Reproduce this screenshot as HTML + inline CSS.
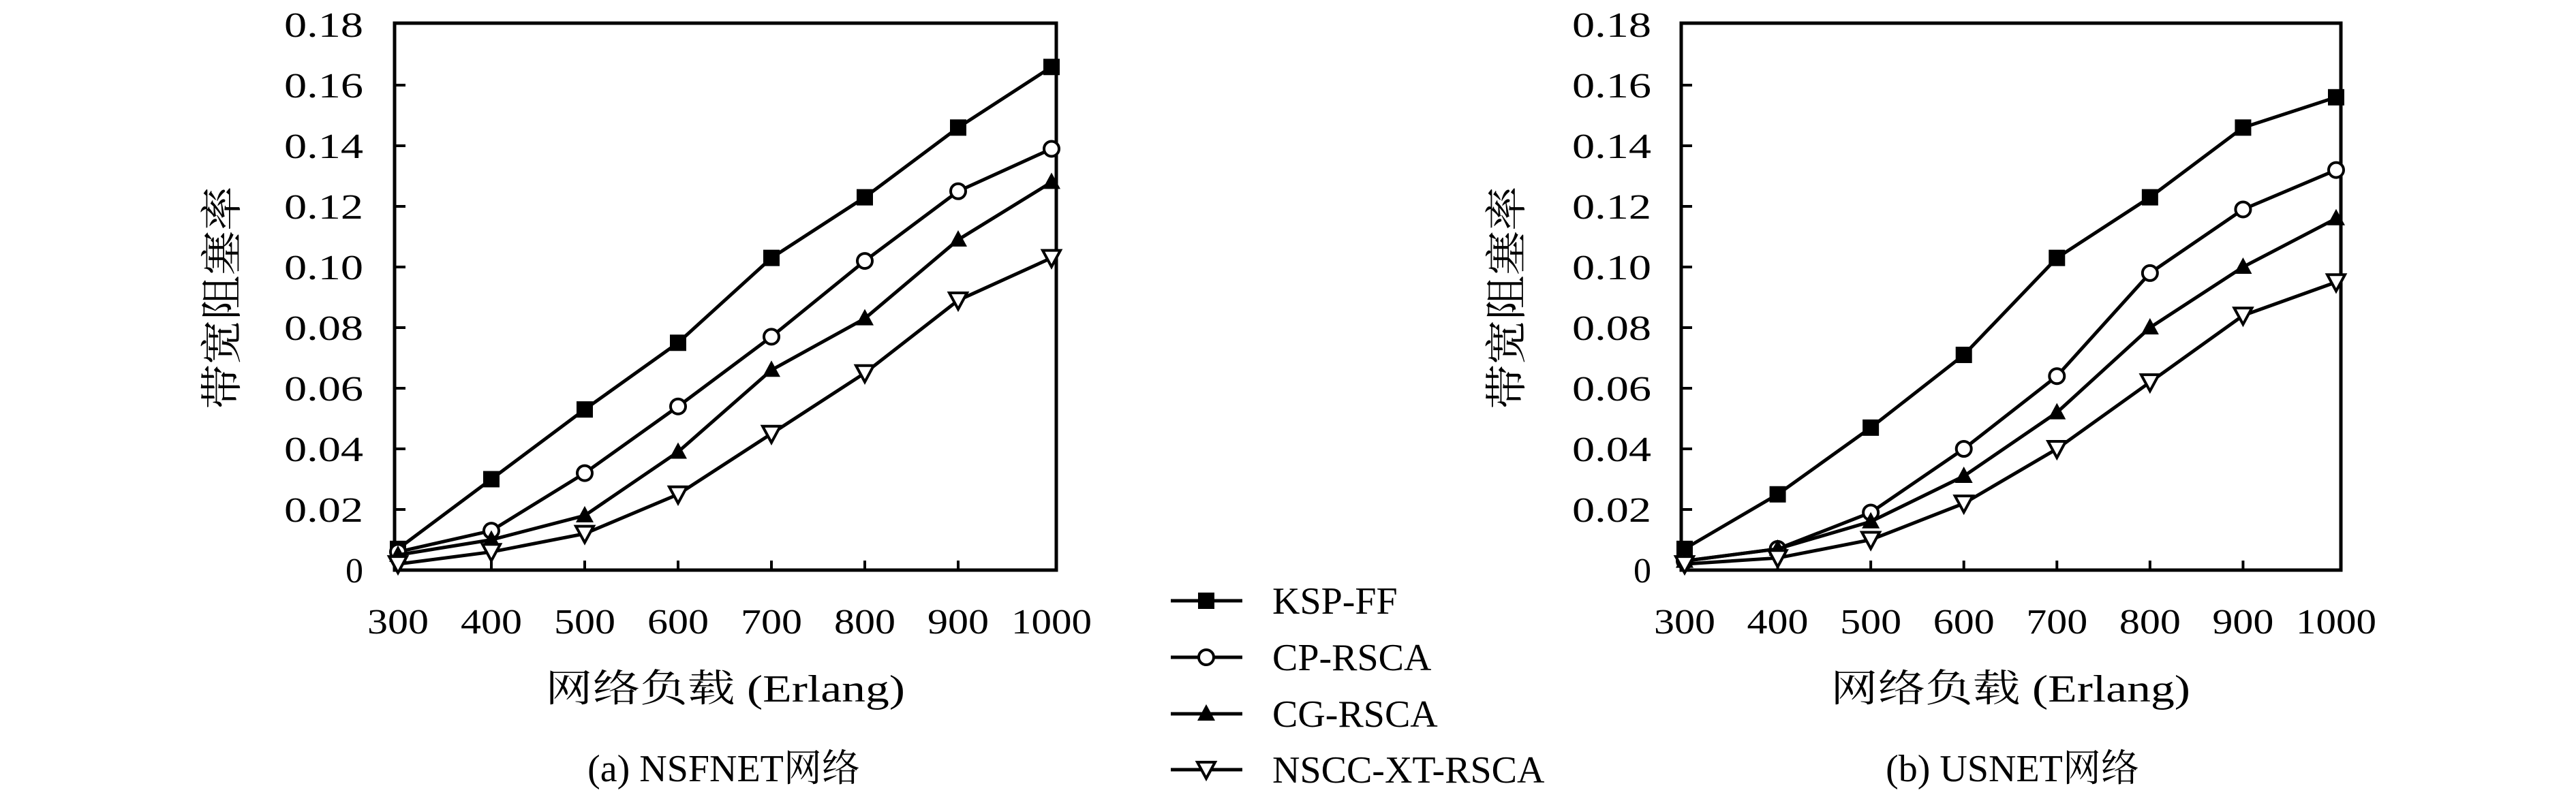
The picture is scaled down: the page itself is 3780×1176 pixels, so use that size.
<!DOCTYPE html>
<html><head><meta charset="utf-8"><style>
html,body{margin:0;padding:0;background:#fff;}
svg{display:block;}
text{font-family:"Liberation Serif","Noto Serif CJK SC",serif;fill:#000;}
</style></head><body>
<svg id="chart" width="3780" height="1176" viewBox="0 0 3780 1176" xmlns="http://www.w3.org/2000/svg"></svg>
<script>
const categories = [300, 400, 500, 600, 700, 800, 900, 1000];
const yTicks = [0, 0.02, 0.04, 0.06, 0.08, 0.10, 0.12, 0.14, 0.16, 0.18];
const yTickLabels = ["0", "0.02", "0.04", "0.06", "0.08", "0.10", "0.12", "0.14", "0.16", "0.18"];
const seriesNames = ["KSP-FF", "CP-RSCA", "CG-RSCA", "NSCC-XT-RSCA"];
const nsfKSP = [0.007, 0.030, 0.053, 0.075, 0.103, 0.123, 0.146, 0.166];
const nsfCP = [0.006, 0.013, 0.032, 0.054, 0.077, 0.102, 0.125, 0.139];
const nsfCG = [0.005, 0.010, 0.018, 0.039, 0.066, 0.083, 0.109, 0.128];
const nsfNSCC = [0.002, 0.006, 0.012, 0.025, 0.045, 0.065, 0.089, 0.103];
const usKSP = [0.007, 0.025, 0.047, 0.071, 0.103, 0.123, 0.146, 0.156];
const usCP = [0.003, 0.007, 0.019, 0.040, 0.064, 0.098, 0.119, 0.132];
const usCG = [0.003, 0.007, 0.016, 0.031, 0.052, 0.080, 0.100, 0.116];
const usNSCC = [0.002, 0.004, 0.010, 0.022, 0.040, 0.062, 0.084, 0.095];

const NS = "http://www.w3.org/2000/svg";
const svg = document.getElementById('chart');
function mk(tag, attrs, parent) {
  const e = document.createElementNS(NS, tag);
  for (const k in attrs) e.setAttribute(k, attrs[k]);
  (parent || svg).appendChild(e);
  return e;
}
function marker(g, type, x, y) {
  const s = 12;
  let m;
  if (type === 0) m = mk('rect', {x: x - s, y: y - s, width: 2 * s, height: 2 * s, fill: '#000'}, g);
  else if (type === 1) m = mk('circle', {cx: x, cy: y, r: 11, fill: '#fff', stroke: '#000', 'stroke-width': 4}, g);
  else if (type === 2) m = mk('polygon', {points: `${x},${y - 14} ${x - 13},${y + 10} ${x + 13},${y + 10}`, fill: '#000'}, g);
  else m = mk('polygon', {points: `${x - 13},${y - 11} ${x + 13},${y - 11} ${x},${y + 13}`, fill: '#fff', stroke: '#000', 'stroke-width': 4}, g);
  
  
}
function panel(opts) {
  const {frameL, frameR, x0, x1, seriesList, caption, ylabX, ytickR, xTitleX, captionX, id} = opts;
  const top = 34, bottom = 837, yMaxPx = 36;
  const g = mk('g', {});
  
  
  const xS = v => x0 + (v - categories[0]) / (categories[categories.length - 1] - categories[0]) * (x1 - x0);
  const yS = v => bottom - v / 0.18 * (bottom - yMaxPx);
  const frame = mk('rect', {x: frameL, y: top, width: frameR - frameL, height: bottom - top, fill: 'none', stroke: '#000', 'stroke-width': 5}, g);
  
  
  yTicks.forEach((t, i) => {
    const y = yS(t);
    if (i > 0 && i < yTicks.length - 1) mk('line', {x1: frameL, x2: frameL + 16, y1: y, y2: y, stroke: '#000', 'stroke-width': 4}, g);
    const tx = mk('text', {x: ytickR, y: y + 18, 'text-anchor': 'end', 'font-size': 52}, g);
    
    
    tx.textContent = yTickLabels[i];
    if (i > 0) { tx.setAttribute('textLength', 116); tx.setAttribute('lengthAdjust', 'spacingAndGlyphs'); }
  });
  categories.forEach((c, i) => {
    const x = xS(c);
    if (i > 0 && i < categories.length - 1) mk('line', {x1: x, x2: x, y1: bottom, y2: bottom - 14, stroke: '#000', 'stroke-width': 4}, g);
    const tx = mk('text', {x: x, y: 930, 'text-anchor': 'middle', 'font-size': 52, textLength: String(c).length === 4 ? 118 : 90, lengthAdjust: 'spacingAndGlyphs'}, g);
    
    
    tx.textContent = c;
  });
  seriesList.forEach((vals, si) => {
    const sg = mk('g', {}, g);
    
    
    const pts = vals.map((v, i) => xS(categories[i]) + ',' + yS(v)).join(' ');
    const pl = mk('polyline', {points: pts, fill: 'none', stroke: '#000', 'stroke-width': 5}, sg);
    
    
    vals.forEach((v, i) => marker(sg, si, xS(categories[i]), yS(v)));
  });
  const yl = mk('text', {x: 0, y: 0, 'text-anchor': 'middle', 'font-size': 62, transform: `translate(${ylabX},437) rotate(-90)`, textLength: 327, lengthAdjust: 'spacingAndGlyphs'}, g);
  
  
  yl.textContent = '带宽阻塞率';
  const xl = mk('text', {x: xTitleX, y: 1030, 'text-anchor': 'middle', 'font-size': 56, textLength: 528, lengthAdjust: 'spacingAndGlyphs'}, g);
  
  
  xl.textContent = '网络负载 (Erlang)';
  const cp = mk('text', {x: captionX, y: 1147, 'text-anchor': 'middle', 'font-size': 56}, g);
  
  
  cp.textContent = caption;
}
panel({id: 'panel-nsfnet', frameL: 579, frameR: 1550, x0: 584, x1: 1543, seriesList: [nsfKSP, nsfCP, nsfCG, nsfNSCC], caption: '(a) NSFNET网络', ylabX: 347, ytickR: 533, xTitleX: 1064, captionX: 1062});
panel({id: 'panel-usnet', frameL: 2467, frameR: 3435, x0: 2472, x1: 3428, seriesList: [usKSP, usCP, usCG, usNSCC], caption: '(b) USNET网络', ylabX: 2232, ytickR: 2423, xTitleX: 2950, captionX: 2953});

const lg = mk('g', {});


const legendY = [882, 965, 1048, 1130];
seriesNames.forEach((n, i) => {
  const eg = mk('g', {}, lg);
  
  
  mk('line', {x1: 1718, x2: 1823, y1: legendY[i], y2: legendY[i], stroke: '#000', 'stroke-width': 5}, eg);
  marker(eg, i, 1770, legendY[i]);
  const t = mk('text', {x: 1867, y: legendY[i] + 19, 'font-size': 56}, eg);
  
  
  t.textContent = n;
});
</script>
</body></html>
